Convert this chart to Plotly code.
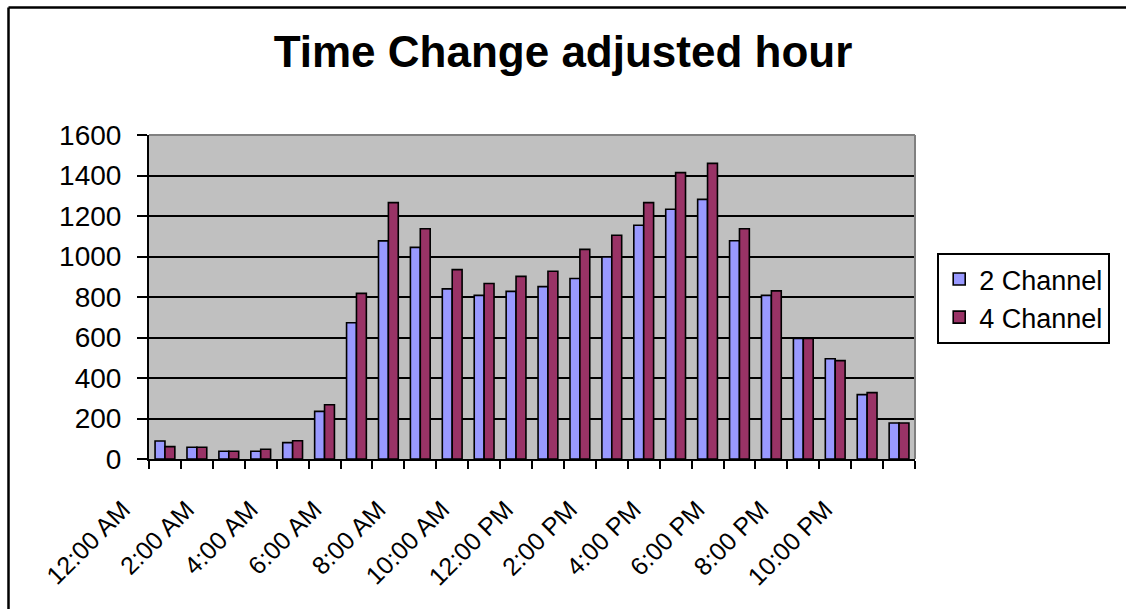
import plotly.graph_objects as go

hours = ["12:00 AM", "1:00 AM", "2:00 AM", "3:00 AM", "4:00 AM", "5:00 AM",
         "6:00 AM", "7:00 AM", "8:00 AM", "9:00 AM", "10:00 AM", "11:00 AM",
         "12:00 PM", "1:00 PM", "2:00 PM", "3:00 PM", "4:00 PM", "5:00 PM",
         "6:00 PM", "7:00 PM", "8:00 PM", "9:00 PM", "10:00 PM", "11:00 PM"]
tick_labels = ["12:00 AM", "", "2:00 AM", "", "4:00 AM", "", "6:00 AM", "",
               "8:00 AM", "", "10:00 AM", "", "12:00 PM", "", "2:00 PM", "",
               "4:00 PM", "", "6:00 PM", "", "8:00 PM", "", "10:00 PM", ""]
two_channel = [89, 58, 38, 38, 81, 235, 673, 1077, 1045, 840, 808, 828,
               851, 891, 998, 1154, 1233, 1282, 1078, 808, 595, 495, 318, 178]
four_channel = [61, 58, 38, 48, 90, 268, 818, 1266, 1137, 935, 867, 902,
                927, 1035, 1105, 1266, 1414, 1460, 1137, 830, 595, 486, 328, 178]

FONT = "Liberation Sans, Arial, sans-serif"

fig = go.Figure()
fig.add_trace(go.Bar(name="2 Channel", x=hours, y=two_channel,
                     marker=dict(color="#9999FF", line=dict(color="black", width=1.6))))
fig.add_trace(go.Bar(name="4 Channel", x=hours, y=four_channel,
                     marker=dict(color="#993366", line=dict(color="black", width=1.6))))

fig.update_layout(
    width=1126, height=609,
    margin=dict(l=149, r=211, t=135, b=150),
    paper_bgcolor="white", plot_bgcolor="#C0C0C0",
    barmode="group", bargap=0.38, bargroupgap=0,
    font=dict(family=FONT, color="black"),
    title=dict(text="<b>Time Change adjusted hour</b>", x=0.5, xanchor="center",
               xref="container", y=1 - 52 / 609, yanchor="middle",
               font=dict(size=44, family=FONT, color="black")),
    legend=dict(x=1.029, y=0.636, xanchor="left", yanchor="top",
                bgcolor="white", bordercolor="black", borderwidth=2,
                font=dict(size=27, family=FONT, color="black"),
                tracegroupgap=0, itemwidth=30),
    showlegend=True,
)
fig.update_xaxes(
    type="category", tickmode="array", tickvals=hours, ticktext=tick_labels,
    tickson="boundaries", ticks="outside", ticklen=8, tickwidth=2, tickcolor="black",
    tickangle=-45, tickfont=dict(size=25, family=FONT, color="black"),
    ticklabelshift=-42, ticklabelstandoff=24,
    showline=True, linecolor="black", linewidth=2, mirror=False,
    showgrid=False, range=[-0.5, 23.5],
)
fig.update_yaxes(
    range=[0, 1600], tickvals=[0, 200, 400, 600, 800, 1000, 1200, 1400, 1600],
    ticks="outside", ticklen=10, tickwidth=2, tickcolor="black",
    tickfont=dict(size=28, family=FONT, color="black"), ticklabelstandoff=10,
    showline=True, linecolor="black", linewidth=2,
    showgrid=True, gridcolor="black", gridwidth=1.5, zeroline=False,
)
# plot-area top/right border (gray)
fig.add_shape(type="line", xref="paper", yref="paper", x0=0, x1=1, y0=1, y1=1,
              line=dict(color="#808080", width=2))
fig.add_shape(type="line", xref="paper", yref="paper", x0=1, x1=1, y0=0, y1=1,
              line=dict(color="#808080", width=2))
# outer chart border (only left and top edges are visible in the picture)
left_x = (8.5 - 149) / 766
top_y = (459 - 7.5) / 324
right_x = (1126 - 149) / 766
fig.add_shape(type="line", xref="paper", yref="paper",
              x0=left_x, x1=left_x, y0=-0.47, y1=top_y,
              line=dict(color="black", width=2.5), layer="above")
fig.add_shape(type="line", xref="paper", yref="paper",
              x0=left_x, x1=right_x, y0=top_y, y1=top_y,
              line=dict(color="black", width=2.5), layer="above")

fig.write_html("out.html", config={"displayModeBar": False},
               post_script="document.body.style.margin='0';document.body.style.overflow='hidden';")
